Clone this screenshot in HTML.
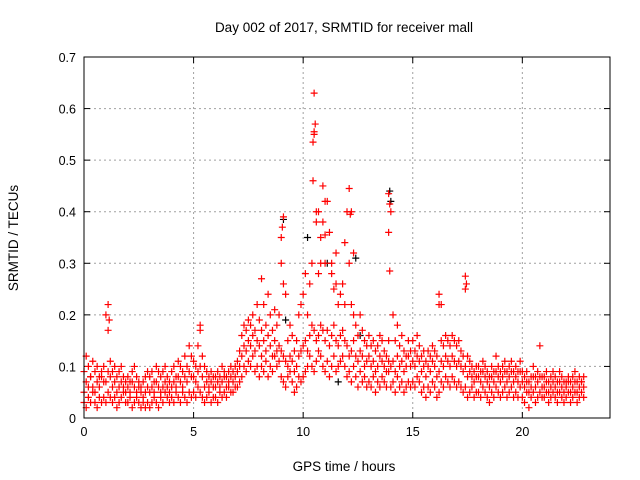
<!DOCTYPE html>
<html><head><meta charset="utf-8"><style>
body{margin:0;background:#fff;}
svg{display:block;font-family:"Liberation Sans",sans-serif;}
</style></head><body>
<svg id="chart" width="640" height="480">
<text x="344" y="32" text-anchor="middle" font-size="13.5">Day 002 of 2017, SRMTID for receiver mall</text>
<text x="18" y="238" text-anchor="middle" font-size="13.5" transform="rotate(-90 18 238)">SRMTID / TECUs</text>
<text x="344" y="471" text-anchor="middle" font-size="13.5">GPS time / hours</text>
<g id="grid"></g>
<g id="ticks"></g>
<g id="marks"></g>
<rect x="84" y="57" width="526" height="361" fill="none" stroke="#000" stroke-width="1"/>
</svg>
<script>
const xTicks=[0,5,10,15,20];
const yTicks=[0,0.1,0.2,0.3,0.4,0.5,0.6,0.7];
const yTickLabels=["0","0.1","0.2","0.3","0.4","0.5","0.6","0.7"];
const stepHours=0.1;
const seriesLow=[.03,.02,.04,.03,.05,.03,.02,.04,.03,.04,.03,.05,.04,.03,.04,.02,.03,.04,.05,.03,.03,.04,.02,.03,.04,.03,.02,.03,.02,.03,.02,.03,.04,.03,.02,.04,.03,.05,.04,.03,.04,.03,.05,.04,.03,.05,.04,.03,.05,.04,.05,.04,.06,.05,.04,.03,.04,.05,.03,.04,.04,.03,.05,.04,.05,.04,.06,.05,.05,.06,.06,.07,.08,.10,.09,.11,.10,.12,.09,.10,.08,.10,.09,.11,.08,.10,.09,.12,.10,.11,.08,.07,.06,.08,.09,.07,.05,.06,.08,.07,.08,.09,.10,.12,.10,.09,.11,.13,.12,.10,.09,.11,.08,.10,.12,.09,.10,.11,.12,.10,.08,.09,.07,.10,.08,.06,.09,.07,.08,.06,.07,.06,.08,.05,.07,.06,.08,.07,.06,.09,.06,.07,.05,.08,.06,.07,.05,.06,.07,.06,.07,.06,.08,.07,.05,.06,.04,.06,.05,.07,.06,.04,.05,.07,.06,.08,.07,.06,.08,.07,.06,.07,.06,.05,.06,.04,.05,.06,.04,.05,.05,.04,.06,.05,.04,.03,.05,.04,.06,.05,.04,.05,.06,.04,.05,.06,.04,.05,.04,.06,.04,.03,.05,.02,.04,.05,.03,.04,.05,.04,.04,.05,.03,.04,.05,.04,.03,.05,.04,.03,.04,.05,.03,.04,.05,.03,.04,.05,.04];
const seriesMid=[.05,.07,.06,.08,.06,.05,.07,.06,.08,.07,.07,.09,.08,.06,.07,.05,.06,.07,.06,.05,.06,.05,.07,.06,.05,.06,.05,.04,.05,.06,.05,.06,.05,.07,.06,.05,.06,.07,.06,.05,.06,.07,.06,.08,.07,.06,.08,.07,.09,.08,.08,.07,.09,.10,.08,.06,.07,.06,.07,.06,.06,.07,.06,.07,.08,.06,.07,.08,.07,.08,.09,.10,.12,.14,.13,.15,.14,.16,.13,.15,.14,.12,.15,.13,.16,.14,.12,.15,.13,.14,.13,.12,.11,.10,.12,.11,.09,.10,.12,.13,.14,.15,.13,.16,.18,.17,.15,.16,.18,.17,.15,.17,.14,.16,.18,.15,.14,.16,.17,.15,.14,.12,.13,.15,.12,.11,.13,.12,.10,.11,.12,.10,.11,.09,.10,.12,.11,.10,.09,.11,.10,.11,.09,.12,.10,.11,.09,.10,.12,.10,.11,.10,.12,.11,.09,.10,.08,.10,.09,.11,.10,.08,.09,.11,.10,.12,.11,.10,.12,.11,.10,.11,.10,.09,.10,.08,.09,.08,.07,.08,.08,.07,.09,.08,.07,.06,.08,.07,.09,.08,.07,.08,.09,.07,.08,.09,.07,.08,.07,.09,.07,.06,.07,.05,.06,.08,.06,.07,.08,.06,.06,.07,.05,.06,.07,.06,.05,.07,.06,.05,.06,.07,.05,.06,.07,.05,.06,.07,.06];
const seriesHigh=[.09,.12,.10,.08,.11,.09,.10,.08,.09,.10,.20,.17,.11,.09,.10,.08,.09,.10,.08,.07,.08,.07,.09,.10,.08,.07,.06,.07,.08,.09,.08,.09,.07,.10,.09,.08,.09,.10,.08,.07,.09,.10,.08,.11,.10,.09,.12,.10,.14,.12,.11,.10,.14,.17,.12,.10,.09,.08,.09,.08,.08,.09,.08,.10,.09,.08,.09,.10,.09,.10,.11,.13,.16,.18,.17,.19,.18,.20,.17,.22,.19,.17,.22,.18,.24,.20,.17,.21,.18,.20,.35,.26,.24,.15,.18,.16,.13,.15,.20,.22,.24,.28,.20,.26,.30,.55,.40,.28,.35,.38,.30,.42,.36,.28,.25,.32,.22,.24,.26,.22,.40,.30,.22,.20,.18,.16,.20,.17,.15,.14,.16,.14,.15,.13,.14,.16,.15,.13,.12,.15,.40,.20,.15,.18,.14,.16,.13,.12,.15,.13,.15,.13,.16,.14,.12,.13,.11,.13,.12,.14,.13,.12,.22,.15,.14,.16,.15,.14,.16,.15,.14,.15,.13,.12,.25,.12,.11,.10,.09,.10,.10,.09,.11,.10,.09,.08,.10,.09,.12,.10,.09,.10,.11,.09,.10,.11,.09,.10,.09,.11,.09,.08,.09,.07,.08,.10,.08,.09,.14,.08,.08,.09,.07,.08,.09,.08,.07,.09,.08,.07,.07,.08,.07,.08,.09,.07,.08,.07,.08];
const outlierTimes=[10.5,10.55,10.5,10.45,10.45,10.7,10.6,10.9,11.0,11.0,10.8,12.1,12.2,12.15,9.1,9.05,13.9,13.95,13.9,13.95,16.2,16.3,17.4,17.45,1.1,1.15,5.3,11.3,11.5,12.3,8.1,9.0,11.9];
const outlierValues=[.63,.57,.555,.535,.46,.40,.38,.45,.42,.355,.30,.445,.40,.395,.39,.37,.435,.415,.36,.285,.24,.22,.275,.26,.22,.19,.18,.30,.26,.32,.27,.30,.34];
const blackTimes=[9.1,11.1,12.4,13.95,14.0,11.6,10.2,9.2,12.6];
const blackValues=[.385,.30,.31,.44,.42,.07,.35,.19,.16];

const X0=84,X1=610,Y0=418,Y1=57,XMAX=24,YMAX=0.7;
const xs=t=>X0+(X1-X0)*t/XMAX;
const ys=v=>Y0-(Y0-Y1)*v/YMAX;
const NS="http://www.w3.org/2000/svg";
const grid=document.getElementById('grid'),ticks=document.getElementById('ticks'),marks=document.getElementById('marks');
function mk(tag,attrs,parent){const e=document.createElementNS(NS,tag);for(const k in attrs)e.setAttribute(k,attrs[k]);parent.appendChild(e);return e;}
xTicks.forEach(t=>{
  const x=xs(t);
  if(t>0){const g=mk('line',{x1:x,x2:x,y1:Y1,y2:Y0,stroke:'#a0a0a0','stroke-dasharray':'2,3'},grid);
  
  }
  mk('line',{x1:x,x2:x,y1:Y0,y2:Y0-6,stroke:'#000'},ticks);
  mk('line',{x1:x,x2:x,y1:Y1,y2:Y1+6,stroke:'#000'},ticks);
  const l=mk('text',{x:x,y:Y0+18,'text-anchor':'middle','font-size':'12.5'},ticks);l.textContent=t;
  
  
});
yTicks.forEach((v,i)=>{
  const y=ys(v);
  if(v>0&&v<YMAX-1e-9){const g=mk('line',{x1:X0,x2:X1,y1:y,y2:y,stroke:'#a0a0a0','stroke-dasharray':'2,3'},grid);
  
  }
  mk('line',{x1:X0,x2:X0+6,y1:y,y2:y,stroke:'#000'},ticks);
  mk('line',{x1:X1,x2:X1-6,y1:y,y2:y,stroke:'#000'},ticks);
  const l=mk('text',{x:X0-8,y:y+5,'text-anchor':'end','font-size':'12.5'},ticks);l.textContent=yTickLabels[i];
  
  
});
function plus(t,v,color){
  const x=xs(t),y=ys(v);
  const p=mk('path',{d:`M${x-3.5},${y}h7M${x},${y-3.5}v7`,stroke:color,'stroke-width':'1.2',fill:'none'},marks);
  
  
}
blackTimes.forEach((t,i)=>plus(t,blackValues[i],'#000'));
[seriesLow,seriesMid,seriesHigh].forEach(s=>s.forEach((v,i)=>plus(i*stepHours,v,'#ff0000')));
outlierTimes.forEach((t,i)=>plus(t,outlierValues[i],'#ff0000'));
</script>
</body></html>
